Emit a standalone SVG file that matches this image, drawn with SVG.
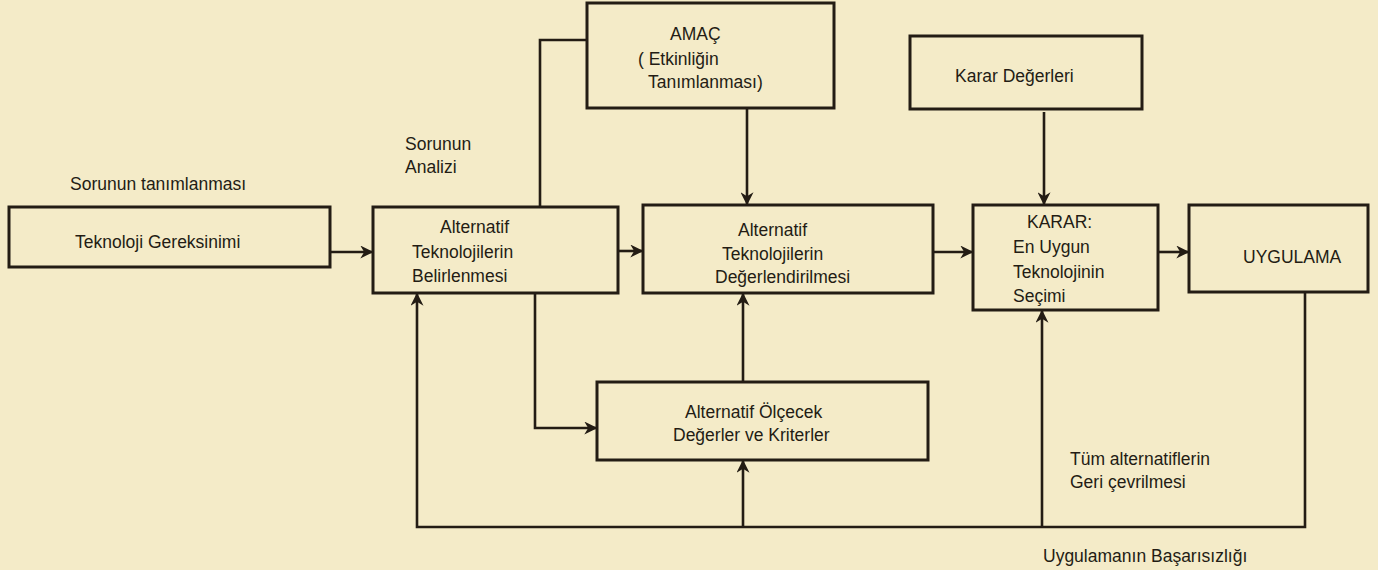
<svg xmlns="http://www.w3.org/2000/svg" width="1378" height="570" viewBox="0 0 1378 570">
<style>
.bg{fill:#f4ebc8}
.box{fill:none;stroke:#231c14;stroke-width:3}
.ln{fill:none;stroke:#231c14;stroke-width:2.6}
.t{font-family:"Liberation Sans",Arial,sans-serif;font-size:17.5px;fill:#231c14}
</style>
<defs>
<marker id="ah" viewBox="0 0 10 10" refX="9" refY="5" markerWidth="5" markerHeight="5" orient="auto" markerUnits="strokeWidth">
<path d="M0,0 L10,5 L0,10 L3,5 Z" fill="#231c14"/>
</marker>
</defs>
<rect class="bg" x="0" y="0" width="1378" height="570"/>

<g id="connectors">
<path class="ln" d="M330,252 H372" marker-end="url(#ah)"/>
<path class="ln" d="M618,251 H642" marker-end="url(#ah)"/>
<path class="ln" d="M933,252 H972" marker-end="url(#ah)"/>
<path class="ln" d="M1158,252 H1188" marker-end="url(#ah)"/>
<path class="ln" d="M747,108 V204" marker-end="url(#ah)"/>
<path class="ln" d="M1044,112 V204" marker-end="url(#ah)"/>
<path class="ln" d="M587,40 H540 V207"/>
<path class="ln" d="M535,293 V428 H596" marker-end="url(#ah)"/>
<path class="ln" d="M743,382 V294" marker-end="url(#ah)"/>
<path class="ln" d="M1305,292 V527 H417 V294" marker-end="url(#ah)"/>
<path class="ln" d="M743,527 V461" marker-end="url(#ah)"/>
<path class="ln" d="M1042,527 V311" marker-end="url(#ah)"/>
</g>

<g id="n-gereksinim">
<rect class="box" x="9" y="207" width="321" height="60"/>
<text class="t" x="75" y="248">Teknoloji Gereksinimi</text>
</g>
<g id="l-tanimlanmasi">
<text class="t" x="70" y="190">Sorunun tanımlanması</text>
</g>
<g id="l-analiz">
<text class="t" x="405" y="150">Sorunun</text>
<text class="t" x="405" y="173">Analizi</text>
</g>
<g id="n-belirlenmesi">
<rect class="box" x="373" y="207" width="245" height="86"/>
<text class="t" x="440" y="233">Alternatif</text>
<text class="t" x="412" y="258">Teknolojilerin</text>
<text class="t" x="412" y="282">Belirlenmesi</text>
</g>
<g id="n-amac">
<rect class="box" x="587" y="3" width="247" height="105"/>
<text class="t" x="670" y="40">AMAÇ</text>
<text class="t" x="638" y="65">( Etkinliğin</text>
<text class="t" x="648" y="88">Tanımlanması)</text>
</g>
<g id="n-degerlendirilmesi">
<rect class="box" x="643" y="205" width="290" height="88"/>
<text class="t" x="738" y="236">Alternatif</text>
<text class="t" x="722" y="260">Teknolojilerin</text>
<text class="t" x="715" y="283">Değerlendirilmesi</text>
</g>
<g id="n-karar-degerleri">
<rect class="box" x="910" y="36" width="232" height="73"/>
<text class="t" x="955" y="82">Karar Değerleri</text>
</g>
<g id="n-karar">
<rect class="box" x="973" y="205" width="185" height="105"/>
<text class="t" x="1027" y="228">KARAR:</text>
<text class="t" x="1013" y="253">En Uygun</text>
<text class="t" x="1013" y="278">Teknolojinin</text>
<text class="t" x="1013" y="302">Seçimi</text>
</g>
<g id="n-uygulama">
<rect class="box" x="1189" y="205" width="179" height="87"/>
<text class="t" x="1243" y="263">UYGULAMA</text>
</g>
<g id="n-olcecek">
<rect class="box" x="597" y="382" width="331" height="78"/>
<text class="t" x="685" y="418">Alternatif Ölçecek</text>
<text class="t" x="673" y="441">Değerler ve Kriterler</text>
</g>
<g id="l-geri">
<text class="t" x="1070" y="465">Tüm alternatiflerin</text>
<text class="t" x="1070" y="488">Geri çevrilmesi</text>
</g>
<g id="l-basarisizlik">
<text class="t" x="1043" y="562">Uygulamanın Başarısızlığı</text>
</g>
</svg>
